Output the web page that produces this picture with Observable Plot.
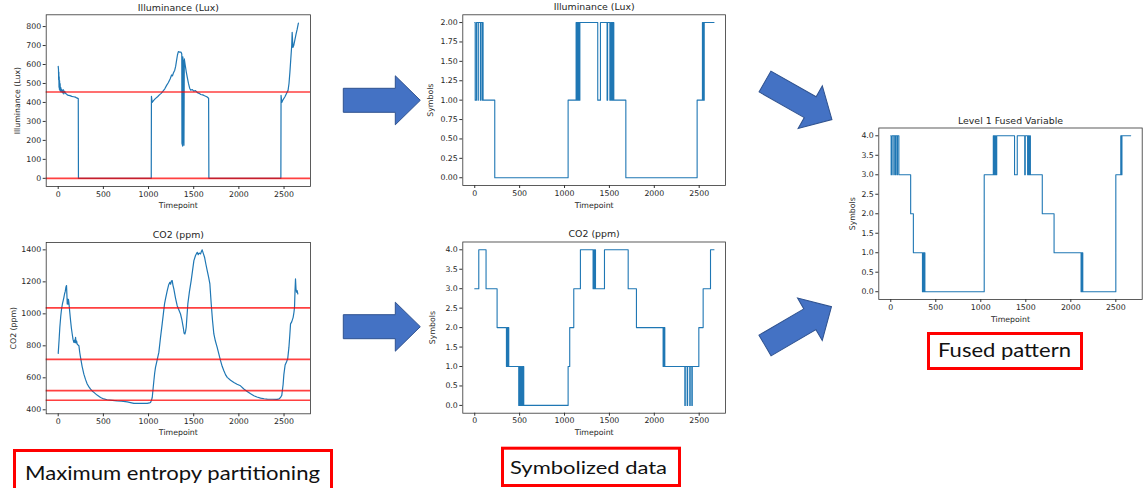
<!DOCTYPE html>
<html><head><meta charset="utf-8">
<script src="https://cdn.jsdelivr.net/npm/d3@7"></script>
<script src="https://cdn.jsdelivr.net/npm/@observablehq/plot@0.6"></script>
<style>
html,body{margin:0;padding:0;background:#fff;}
#root{position:relative;width:1146px;height:488px;overflow:hidden;background:#fff;}
#root > .c{position:absolute;}
#overlay{position:absolute;left:0;top:0;pointer-events:none;}
</style></head><body><div id="root"></div>
<script>
// ---------------- data ----------------
const timeTicks = [0, 500, 1000, 1500, 2000, 2500];
const illuminanceTicks = [0, 100, 200, 300, 400, 500, 600, 700, 800];
const co2Ticks = [400, 600, 800, 1000, 1200, 1400];
const illumSymbolTicks = [0, 0.25, 0.5, 0.75, 1, 1.25, 1.5, 1.75, 2];
const fourSymbolTicks = [0, 0.5, 1, 1.5, 2, 2.5, 3, 3.5, 4];

const illuminanceThresholds = [455, 0];
const co2Thresholds = [1037, 715, 520, 460];

const illuminanceRaw = [[0,590],[3,575],[5,520],[7,560],[9,480],[11,535],[13,470],[15,515],[18,465],[21,500],[24,460],[28,480],[32,455],[36,470],[42,462],[48,450],[55,468],[62,445],[70,460],[80,448],[90,445],[100,440],[115,437],[130,436],[150,432],[170,430],[190,428],[205,424],[222,420],[224,0],[1030,0],[1032,432],[1040,400],[1055,410],[1075,420],[1100,430],[1120,440],[1140,448],[1160,460],[1180,472],[1200,490],[1220,505],[1240,525],[1255,545],[1265,540],[1275,555],[1290,570],[1300,590],[1310,620],[1320,650],[1330,668],[1345,665],[1360,665],[1368,655],[1370,185],[1378,170],[1380,640],[1383,190],[1388,620],[1392,175],[1396,630],[1405,600],[1418,560],[1430,530],[1442,500],[1455,475],[1467,465],[1485,468],[1500,460],[1520,462],[1541,452],[1560,448],[1578,442],[1600,440],[1620,435],[1645,430],[1665,422],[1668,0],[2465,0],[2467,437],[2475,400],[2490,415],[2510,430],[2530,450],[2545,465],[2555,500],[2565,560],[2575,630],[2585,700],[2590,770],[2594,730],[2598,690],[2607,700],[2620,730],[2633,760],[2645,785],[2659,818]];

const co2Raw = [[0,753],[10,840],[18,916],[28,985],[37,1030],[46,1060],[55,1083],[62,1100],[70,1124],[78,1140],[85,1166],[92,1177],[96,1120],[100,1062],[103,1093],[108,1060],[113,1090],[118,1072],[128,1010],[137,957],[146,910],[155,874],[164,840],[173,822],[180,835],[186,820],[192,853],[198,818],[204,830],[210,811],[220,805],[229,801],[238,760],[247,728],[265,670],[284,623],[302,590],[321,561],[340,543],[358,529],[376,518],[395,509],[430,492],[469,477],[505,468],[542,463],[600,459],[653,456],[700,454],[764,450],[800,445],[838,440],[900,441],[950,440],[985,440],[1010,443],[1022,446],[1032,460],[1041,477],[1050,530],[1059,582],[1068,630],[1077,665],[1095,710],[1114,759],[1132,850],[1151,937],[1164,1000],[1177,1062],[1190,1100],[1207,1145],[1222,1180],[1236,1197],[1245,1185],[1252,1205],[1262,1208],[1270,1180],[1280,1156],[1298,1100],[1317,1051],[1335,1025],[1354,999],[1370,960],[1384,916],[1393,880],[1402,874],[1410,890],[1417,916],[1426,990],[1435,1062],[1453,1140],[1472,1208],[1487,1270],[1502,1333],[1520,1365],[1539,1385],[1550,1370],[1560,1380],[1576,1375],[1585,1390],[1594,1400],[1605,1380],[1620,1354],[1635,1310],[1649,1271],[1665,1230],[1679,1187],[1694,1062],[1708,960],[1723,874],[1740,830],[1760,790],[1778,750],[1797,707],[1815,672],[1834,644],[1852,620],[1871,603],[1908,585],[1945,571],[1980,560],[2018,550],[2055,530],[2092,515],[2130,500],[2166,488],[2200,480],[2240,473],[2280,469],[2314,467],[2370,466],[2424,465],[2445,468],[2461,477],[2475,490],[2490,560],[2498,620],[2512,680],[2528,700],[2541,720],[2554,790],[2563,860],[2572,937],[2585,950],[2601,978],[2610,1010],[2616,1040],[2622,1150],[2627,1218],[2632,1160],[2638,1135],[2645,1145],[2653,1124]];

const illuminanceSymbols = [[0,2],[5,1],[19,2],[37,1],[40,2],[63,1],[66,2],[82,1],[85,2],[93,1],[223,0],[1040,1],[1129,2],[1134,1],[1139,2],[1145,1],[1150,2],[1156,1],[1161,2],[1166,1],[1171,2],[1177,2],[1370,1],[1400,2],[1474,1],[1480,2],[1505,1],[1512,2],[1524,1],[1530,2],[1537,1],[1543,2],[1549,1],[1683,0],[2477,1],[2536,2],[2541,1],[2547,2],[2552,1],[2556,2],[2665,2]];

const co2Symbols = [[0,3],[45,4],[126,3],[249,2],[353,1],[360,2],[366,1],[372,2],[379,1],[490,0],[497,1],[505,0],[512,1],[520,0],[527,1],[533,0],[540,1],[546,0],[1040,1],[1058,2],[1103,3],[1177,4],[1318,3],[1325,4],[1332,3],[1338,4],[1345,3],[1445,4],[1709,3],[1801,2],[2098,1],[2103,2],[2109,1],[2113,2],[2117,1],[2340,0],[2345,1],[2366,0],[2371,1],[2395,0],[2400,1],[2418,0],[2423,1],[2496,2],[2544,3],[2626,4],[2665,4]];

const fusedSymbols = [[0,4],[4,3],[15,4],[34,3],[38,4],[52,3],[56,4],[71,3],[75,4],[90,3],[221,2],[251,1],[352,0],[358,1],[365,0],[371,1],[379,0],[1038,3],[1139,4],[1145,3],[1151,4],[1157,3],[1164,4],[1170,3],[1177,4],[1375,3],[1405,4],[1488,3],[1494,4],[1520,3],[1527,4],[1535,3],[1542,4],[1551,3],[1683,2],[1814,1],[2114,0],[2118,1],[2124,0],[2128,1],[2133,0],[2500,3],[2555,4],[2558,3],[2562,4],[2565,3],[2568,4],[2665,4]];

const captions = ["Maximum entropy partitioning", "Symbolized data", "Fused pattern"];

// ---------------- drawing ----------------
const root = document.getElementById("root");
const xDomain = [-133, 2793];

function addChart(cfg) {
  const [fl, ft, fr, fb] = cfg.frame;
  const mL = fl - cfg.left, mT = ft - cfg.top, mR = cfg.left + cfg.width - fr, mB = cfg.top + cfg.height - fb;
  const marks = [
    Plot.line(cfg.data, {x: d => d[0], y: d => d[1], curve: cfg.curve || "linear", stroke: "#1f77b4", strokeWidth: cfg.sw || 1.2}),
  ];
  if (cfg.rules) marks.push(Plot.ruleY(cfg.rules, {stroke: "#ff0000", strokeWidth: 1.6, strokeOpacity: 0.75}));
  marks.push(
    Plot.frame({stroke: "#333", strokeWidth: 0.8}),
    Plot.axisX({ticks: timeTicks, tickFormat: d3.format("d"), tickSize: 3, tickPadding: 1.5, label: null, stroke: "#333"}),
    Plot.axisY({ticks: cfg.yTicks, tickFormat: cfg.yFormat, tickSize: 3, tickPadding: 2, label: null, stroke: "#333"}),
    Plot.text([cfg.title], {text: d => d, frameAnchor: "top", dy: cfg.titleDy, lineAnchor: "middle", fontSize: 9.4}),
    Plot.text(["Timepoint"], {text: d => d, frameAnchor: "bottom", dy: cfg.xlabDy, lineAnchor: "middle"}),
    Plot.text([cfg.ylabel], {text: d => d, frameAnchor: "left", rotate: -90, dx: cfg.ylabDx, lineAnchor: "middle", textAnchor: "middle"})
  );
  const svg = Plot.plot({
    width: cfg.width, height: cfg.height,
    marginLeft: mL, marginTop: mT, marginRight: mR, marginBottom: mB,
    x: {domain: xDomain, axis: null},
    y: {domain: cfg.yDomain, axis: null},
    style: {fontFamily: "DejaVu Sans", fontSize: "7.8px", color: "#262626", background: "transparent", overflow: "visible"},
    marks
  });
  svg.classList.add("c");
  svg.style.left = cfg.left + "px";
  svg.style.top = cfg.top + "px";
  root.appendChild(svg);
}

addChart({left: 0, top: 0, width: 325, height: 215, frame: [45.7, 14.3, 310, 186],
  data: illuminanceRaw, yDomain: [-43, 862], yTicks: illuminanceTicks, yFormat: d3.format("d"),
  rules: illuminanceThresholds, title: "Illuminance (Lux)", ylabel: "Illuminance (Lux)",
  titleDy: -7.3, xlabDy: 19, ylabDx: -28.4});

addChart({left: 0, top: 222, width: 325, height: 215, frame: [45.7, 242, 310, 413.3],
  data: co2Raw, yDomain: [375, 1446], yTicks: co2Ticks, yFormat: d3.format("d"),
  rules: co2Thresholds, title: "CO2 (ppm)", ylabel: "CO2 (ppm)",
  titleDy: -8, xlabDy: 18.7, ylabDx: -32.7});

addChart({left: 400, top: 0, width: 335, height: 215, frame: [462.3, 14.3, 725, 185],
  data: illuminanceSymbols, curve: "step-after", sw: 1.1, yDomain: [-0.1, 2.1], yTicks: illumSymbolTicks, yFormat: d3.format(".2f"),
  title: "Illuminance (Lux)", ylabel: "Symbols", titleDy: -7.6, xlabDy: 20, ylabDx: -32.3});

addChart({left: 400, top: 222, width: 335, height: 215, frame: [462.3, 241.5, 725, 412.7],
  data: co2Symbols, curve: "step-after", sw: 1.1, yDomain: [-0.2, 4.2], yTicks: fourSymbolTicks, yFormat: d3.format(".1f"),
  title: "CO2 (ppm)", ylabel: "Symbols", titleDy: -8.2, xlabDy: 19.6, ylabDx: -30.6});

addChart({left: 830, top: 105, width: 316, height: 225, frame: [878.3, 127.5, 1141.7, 299],
  data: fusedSymbols, curve: "step-after", sw: 1.1, yDomain: [-0.2, 4.2], yTicks: fourSymbolTicks, yFormat: d3.format(".1f"),
  title: "Level 1 Fused Variable", ylabel: "Symbols", titleDy: -7.5, xlabDy: 20, ylabDx: -26.6});

// ---------------- overlay: arrows and caption boxes ----------------
const NS = "http://www.w3.org/2000/svg";
const ov = document.createElementNS(NS, "svg");
ov.setAttribute("id", "overlay");
ov.setAttribute("width", 1146);
ov.setAttribute("height", 488);
root.appendChild(ov);

const arrowShape = [[0,-12],[52,-12],[52,-24.5],[77,0],[52,24.5],[52,12],[0,12]].map(p => p.join(",")).join(" ");
[[343.3, 100.3, 0], [343.3, 326.7, 0], [765, 81.5, 29.6], [765, 345.5, -30.3]].forEach(([tx, ty, a]) => {
  const p = document.createElementNS(NS, "polygon");
  p.setAttribute("points", arrowShape);
  p.setAttribute("transform", `translate(${tx},${ty}) rotate(${a})`);
  p.setAttribute("fill", "#4472C4");
  p.setAttribute("stroke", "#2F528F");
  p.setAttribute("stroke-width", "1");
  ov.appendChild(p);
});

const boxes = [
  {rect: [14.5, 450.5, 317, 45], tx: 25, ty: 480, tl: 295, fs: 19},
  {rect: [502.5, 448.2, 177, 37.3], tx: 510, ty: 474, tl: 157, fs: 18},
  {rect: [928.5, 333.5, 153, 35], tx: 938, ty: 357.3, tl: 133, fs: 19}
];
boxes.forEach((b, i) => {
  const r = document.createElementNS(NS, "rect");
  r.setAttribute("x", b.rect[0]); r.setAttribute("y", b.rect[1]);
  r.setAttribute("width", b.rect[2]); r.setAttribute("height", b.rect[3]);
  r.setAttribute("fill", "#fff"); r.setAttribute("stroke", "#ff0000"); r.setAttribute("stroke-width", "3");
  ov.appendChild(r);
  const t = document.createElementNS(NS, "text");
  t.setAttribute("x", b.tx); t.setAttribute("y", b.ty);
  t.setAttribute("textLength", b.tl); t.setAttribute("lengthAdjust", "spacingAndGlyphs");
  t.setAttribute("font-family", "Lato, 'Open Sans', sans-serif");
  t.setAttribute("font-size", b.fs);
  t.setAttribute("fill", "#111");
  t.textContent = captions[i];
  ov.appendChild(t);
});
</script>
</body></html>
